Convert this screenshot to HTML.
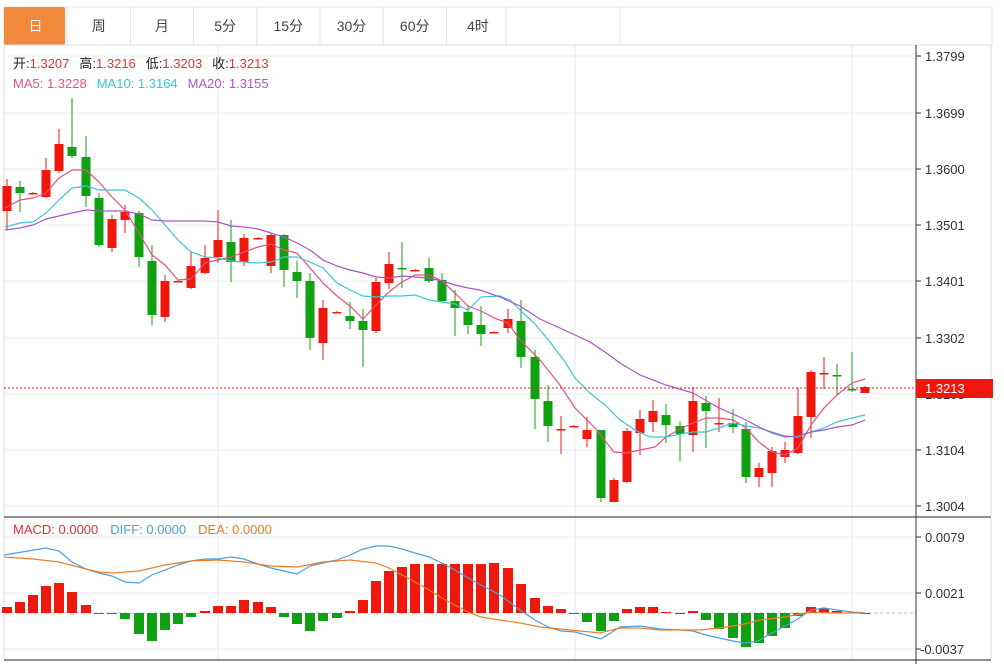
<!DOCTYPE html>
<html><head><meta charset="utf-8"><style>
body{margin:0;background:#fff;width:1004px;height:664px;overflow:hidden;font-family:"Liberation Sans","Noto Sans CJK SC",sans-serif;}
svg{position:absolute;left:0;top:0}
</style></head><body>
<svg id="s" width="1004" height="664" xmlns="http://www.w3.org/2000/svg" font-family="Liberation Sans, Noto Sans CJK SC, sans-serif"></svg>
<script>
const s=document.getElementById('s');let h='';
// tabs
const tabs=['日','周','月','5分','15分','30分','60分','4时'];
h+='<rect x="4" y="7" width="988" height="38" fill="#fff" stroke="#e4e4e4"/>';
tabs.forEach((t,i)=>{const x=4+i*63.2;
 if(i==0)h+=`<rect x="4" y="7" width="61" height="38" rx="2" fill="#f0893c"/>`;
 else h+=`<line x1="${x}" y1="7" x2="${x}" y2="45" stroke="#e4e4e4"/>`;
 h+=`<text x="${x+31.5}" y="31" font-size="14" text-anchor="middle" fill="${i==0?'#fff':'#444'}">${t}</text>`;});
h+='<line x1="506" y1="7" x2="506" y2="45" stroke="#e4e4e4"/><line x1="620" y1="7" x2="620" y2="45" stroke="#e4e4e4"/>';
// frame
h+='<line x1="4" y1="45" x2="4" y2="660" stroke="#ddd"/><line x1="991" y1="45" x2="991" y2="660" stroke="#ddd"/>';
h+='<line x1="4" y1="45" x2="991" y2="45" stroke="#e0e0e0"/>';
// grid main
const py=[[56,'1.3799'],[113,'1.3699'],[169,'1.3600'],[225,'1.3501'],[281,'1.3401'],[338,'1.3302'],[394,'1.3203'],[450,'1.3104'],[506,'1.3004']];
py.forEach(([y,t])=>{h+=`<line x1="4" y1="${y}" x2="916" y2="${y}" stroke="#ececf0"/><line x1="916" y1="${y}" x2="921" y2="${y}" stroke="#333"/><text x="925" y="${y+5}" font-size="13" fill="#333">${t}</text>`;});
const my=[[537,'0.0079'],[593,'0.0021'],[649,'-0.0037']];
my.forEach(([y,t])=>{h+=`<line x1="4" y1="${y}" x2="916" y2="${y}" stroke="#ececf0"/><line x1="916" y1="${y}" x2="921" y2="${y}" stroke="#333"/><text x="${t[0]=='-'?920:925}" y="${y+5}" font-size="13" fill="#333">${t}</text>`;});
[218,575,852].forEach(x=>{h+=`<line x1="${x}" y1="45" x2="${x}" y2="660" stroke="#e6eaf0"/>`;});
h+='<line x1="916" y1="45" x2="916" y2="664" stroke="#333"/>';
h+='<line x1="4" y1="517" x2="991" y2="517" stroke="#222"/><line x1="4" y1="660" x2="991" y2="660" stroke="#222"/>';
// candles [x,open,close,high,low] in px
const C=[[7,211,186,179,230],[20,187,193,181,212],[33,193,193,192,194],[46,197,170,158,198],[59,171,144,129,173],[72,147,156,98,158],[86,157,196,136,207],[99,198,245,193,247],[112,248,219,215,252],[125,220,212,205,233],[139,213,257,211,267],[152,261,315,245,325],[165,317,281,275,322],[178,281,281,280,282],[191,288,266,251,289],[205,273,258,245,274],[218,257,240,210,263],[231,242,262,220,282],[244,262,238,234,266],[258,238,238,237,239],[271,266,235,233,273],[284,235,270,234,287],[297,272,281,261,298],[310,281,338,273,350],[323,343,308,300,360],[337,312,312,311,313],[350,316,321,302,329],[363,321,330,309,367],[376,331,282,278,333],[389,283,264,252,289],[402,268,268.5,242,288],[415,270,270,269,271],[429,268,281,258,283],[442,280,301,273,303],[455,301,308,290,336],[468,312,325,305,334],[481,325,334,306,346],[494,332,332,331,333],[508,328,319,309,333],[521,321,357,300,368],[535,357,399,350,429],[548,401,426,385,442],[561,429,429,416,454],[574,426,426,425,427],[587,439,430,417,447],[601,430,498,430,502],[614,502,480,478,502],[627,482,431,428,483],[640,433,419,410,455],[653,422,411,400,432],[666,415,425,404,443],[680,426,434,421,461],[693,435,401,387,452],[706,403,411,396,448],[719,423,423,398,432],[733,423,427,409,433],[746,429,477,422,483],[759,477,468,463,487],[772,473,451,447,487],[785,457,450,442,463],[798,453,416,388,454],[811,417,372,370,438],[824,373,373,357,389],[837,375,376,364,395],[852,389,390,352,392],[865,393,387,386,393]];
C.forEach(([x,o,c,hi,lo])=>{const up=c<=o&&!(c==o&&false);const g=c>o;const col=g?'#0fa10f':'#f0170d';
 h+=`<line x1="${x}" y1="${hi}" x2="${x}" y2="${lo}" stroke="${col}"/>`;
 const t=Math.min(o,c),b=Math.max(o,c);h+=`<rect x="${x-4.5}" y="${t}" width="9" height="${Math.max(b-t,1.5)}" fill="${col}"/>`;});
const pl=(pts,col)=>`<polyline points="${pts}" fill="none" stroke="${col}" stroke-width="1.2"/>`;
h+=pl('5,208 20,200 33,198 46,193 59,178 72,170 86,170 99,182 112,197 125,210 139,233 152,255 165,265 178,280 191,279 205,263 218,260 231,257 244,252 258,247 271,244 284,250 297,253 310,268 323,283 337,296 350,306 363,319 376,305 389,292 402,282 415,275 429,275 442,281 455,293 468,306 481,311 494,318 508,323 520,340 540,360 560,385 575,408 595,428 614,452 627,453 640,450 655,447 666,437 680,429 693,423 706,418 719,418 733,420 746,428 759,442 772,452 785,455 798,448 811,425 824,408 837,395 852,383 865,379','#e8507a');
h+=pl('5,227 20,223 33,222 46,213 59,200 72,188 86,186 99,190 112,190 125,190 139,198 152,210 165,225 178,240 191,252 205,257 218,258 231,261 244,262 258,263 271,262 284,257 297,257 310,262 323,268 337,283 350,290 363,296 376,297 389,296 402,296 415,295 429,300 442,302 455,304 468,310 481,297 500,296 510,300 520,310 535,324 550,342 565,362 575,378 590,393 605,405 620,420 635,430 650,437 666,437 680,434 693,432 706,432 719,428 733,423 746,426 759,428 772,432 785,436 798,437 811,432 824,428 837,422 852,418 865,415','#3fc4d4');
h+=pl('5,230 20,228 33,225 46,219 59,216 72,213 86,210 99,211 112,211 125,211 139,214 152,220 165,221 178,221 191,221 205,221 218,222 231,226 244,227 258,229 271,233 284,237 297,243 310,250 323,260 337,266 350,270 363,273 376,277 389,278 402,276 415,277 429,278 442,281 455,285 468,288 480,290 500,297 520,306 540,319 560,328 575,335 590,342 605,352 620,363 640,375 666,385 693,393 719,408 733,414 746,420 759,427 772,433 785,437 798,436 811,432 824,430 837,427 852,425 865,420','#a855c8');
// price line
h+='<line x1="4" y1="388" x2="916" y2="388" stroke="#e8170d" stroke-dasharray="2,2"/>';
h+='<rect x="916" y="379" width="77" height="19" fill="#f0170d"/><text x="925" y="393" font-size="13" fill="#fff">1.3213</text>';
// legend
h+='<text x="13" y="68" font-size="13"><tspan fill="#222">开:</tspan><tspan fill="#e3352e">1.3207</tspan><tspan fill="#222" dx="10">高:</tspan><tspan fill="#e3352e">1.3216</tspan><tspan fill="#222" dx="10">低:</tspan><tspan fill="#e3352e">1.3203</tspan><tspan fill="#222" dx="10">收:</tspan><tspan fill="#e3352e">1.3213</tspan></text>';
h+='<text x="13" y="88" font-size="13"><tspan fill="#e8508a">MA5: 1.3228</tspan><tspan fill="#3cc4d4" dx="10">MA10: 1.3164</tspan><tspan fill="#b056c8" dx="10">MA20: 1.3155</tspan></text>';
// MACD
h+='<line x1="4" y1="613" x2="916" y2="613" stroke="#9cc" stroke-dasharray="3,3"/>';
const M=[6,11,18,27,30,21,8,-1,-0.5,-6,-21,-28,-17,-11,-4,2,7,7,13,11,6,-4,-11,-18,-8,-5,2,13,32,42,46,49,49,49,49,49,49,50,45,29,15,7,4,-0.5,-9,-18,-8,4,6,6,1,0,2,-7,-16,-25,-34,-30,-23,-15,-3,6,5,2,0.5,0];
M.forEach((v,i)=>{const x=C[i][0];const col=v>=0?'#f0170d':'#0fa10f';const y=v>=0?613-v:613;h+=`<rect x="${x-5}" y="${y}" width="10" height="${Math.max(Math.abs(v),1)}" fill="${col}"/>`;});
h+=pl('4,555 46,548 59,551 72,562 86,569 99,573 112,576 125,582 139,583 152,575 165,570 178,565 191,561 205,559 218,559 231,557 244,559 258,564 271,568 284,571 297,574 310,566 323,563 337,560 350,555 363,549 376,546 389,546 402,549 415,553 429,557 442,563 455,570 468,578 481,585 500,595 520,610 535,620 548,627 561,631 575,632 590,636 601,639 620,627 640,626 660,629 680,630 693,631 706,635 719,638 733,641 745,643 758,641 772,633 785,626 798,619 811,610 824,608 837,610 852,612 865,613','#4a9fe0');
h+=pl('4,557 33,559 59,562 86,569 99,572 112,573 139,571 165,565 191,561 218,560 244,562 271,566 297,567 323,562 350,560 376,563 389,568 402,575 415,582 429,590 442,598 455,605 468,612 481,617 500,620 520,623 540,627 560,629 580,631 600,633 620,628 640,628 660,630 680,630 700,630 720,628 740,625 760,620 785,617 800,614 811,612 830,613 865,613','#f07d24');
h+='<text x="13" y="534" font-size="13"><tspan fill="#e03030">MACD: 0.0000</tspan><tspan fill="#4a9fe0" dx="12">DIFF: 0.0000</tspan><tspan fill="#f07820" dx="12">DEA: 0.0000</tspan></text>';
s.innerHTML=h;
</script>
</body></html>
